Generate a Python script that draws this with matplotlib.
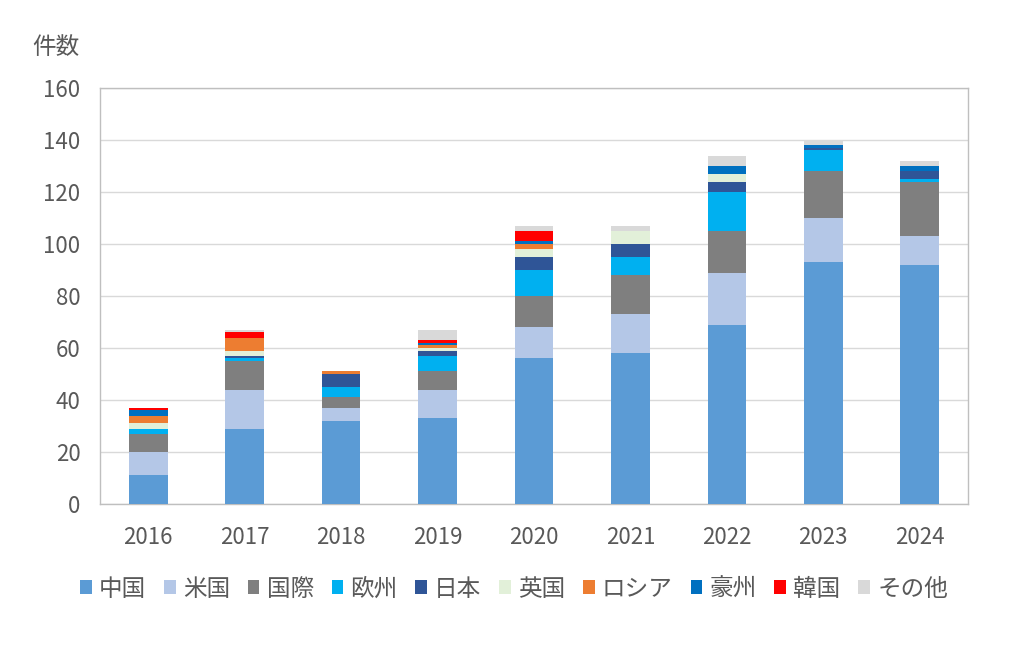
import numpy as np
import matplotlib.pyplot as plt

plt.rcParams['font.family'] = ['Noto Sans CJK JP', 'DejaVu Sans']

# 年
years = ["2016", "2017", "2018", "2019", "2020", "2021", "2022", "2023", "2024"]

# 国・地域別の件数
china = [11, 29, 32, 33, 56, 58, 69, 93, 92]
usa = [9, 15, 5, 11, 12, 15, 20, 17, 11]
intl = [7, 11, 4, 7, 12, 15, 16, 18, 21]
europe = [2, 1, 4, 6, 10, 7, 15, 8, 1]
japan = [0, 1, 5, 2, 5, 5, 4, 1, 3]
uk = [2, 2, 0, 1, 3, 5, 3, 0, 0]
russia = [3, 5, 1, 1, 2, 0, 0, 0, 0]
australia = [2, 0, 0, 1, 1, 0, 3, 1, 2]
korea = [1, 2, 0, 1, 4, 0, 0, 0, 0]
other = [0, 1, 0, 4, 2, 2, 4, 2, 2]

labels = ["中国", "米国", "国際", "欧州", "日本", "英国", "ロシア", "豪州", "韓国", "その他"]
series = [china, usa, intl, europe, japan, uk, russia, australia, korea, other]
colors = ["#5B9BD5", "#B4C7E7", "#7F7F7F", "#00B0F0", "#2F5597",
          "#E2F0D9", "#ED7D31", "#0070C0", "#FF0000", "#D9D9D9"]

text_color = "#595959"

fig = plt.figure(figsize=(10.24, 6.48), dpi=100)
ax = fig.add_axes([100 / 1024, 1 - 504 / 648, 868 / 1024, 416 / 648])

x = np.arange(len(years))
bottom = np.zeros(len(years))
for vals, lab, col in zip(series, labels, colors):
    ax.bar(x, vals, width=0.4, bottom=bottom, color=col, label=lab, zorder=3)
    bottom += np.array(vals)

ax.set_xlim(-0.5, len(years) - 0.5)
ax.set_ylim(0, 160)
ax.set_yticks(range(0, 161, 20))
ax.set_xticks(x)
ax.set_xticklabels(years)
ax.tick_params(axis='both', length=0, labelsize=16, colors=text_color)
ax.tick_params(axis='y', pad=14)
ax.tick_params(axis='x', pad=16)
ax.grid(axis='y', color="#D9D9D9", linewidth=1, zorder=0)
for s in ax.spines.values():
    s.set_color("#BFBFBF")
    s.set_linewidth(1)

fig.text(56 / 1024, 1 - 47 / 648, "件数", fontsize=17, color=text_color,
         ha='center', va='center')

leg = fig.legend(loc='center', bbox_to_anchor=(514 / 1024, 1 - 589 / 648), ncol=10,
                 frameon=False, fontsize=17, handlelength=0.5, handleheight=0.5,
                 handletextpad=0.3, columnspacing=0.75)
for t in leg.get_texts():
    t.set_color(text_color)

fig.savefig("out.png", dpi=100)
